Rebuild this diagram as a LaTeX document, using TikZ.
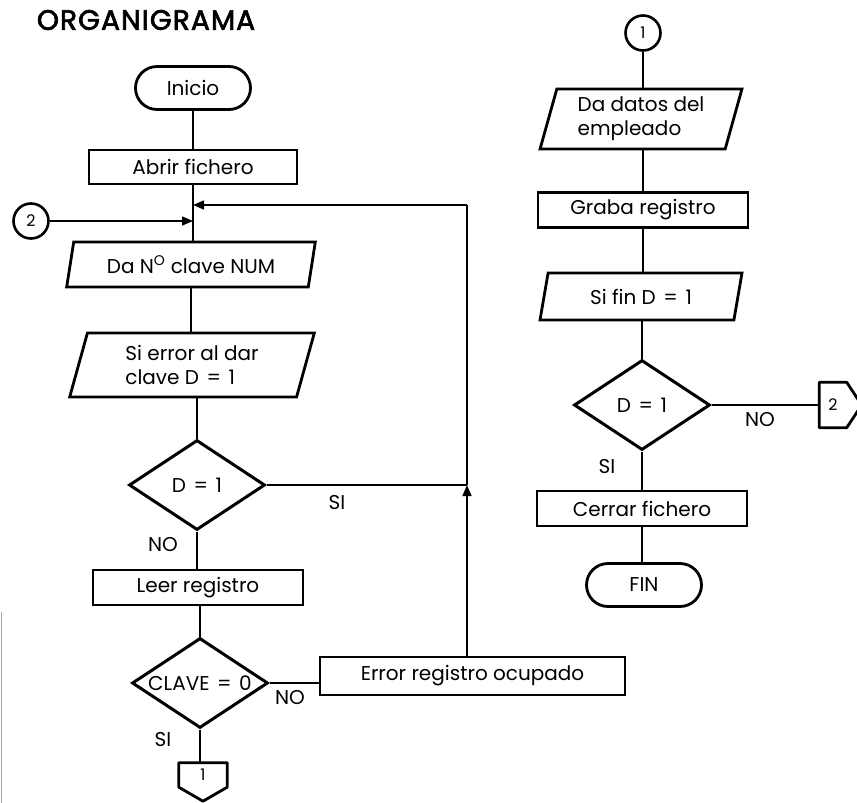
\documentclass[tikz,border=0pt]{standalone}
\usepackage{fontspec}
\setmainfont{Poppins}
\newfontfamily\titlefont[LetterSpace=4,FakeBold=2.5]{Poppins}
\usetikzlibrary{shapes.geometric,shapes.misc,arrows.meta}
\newcommand{\eqs}{\hspace{0.38em}=\hspace{0.38em}}
\begin{document}
\begin{tikzpicture}[x=1pt,y=-1pt,
  every node/.style={font=\fontsize{20}{24}\selectfont},
  flow/.style={line width=1.4pt},
  arr/.style={flow,-{Triangle[length=11pt,width=9pt]}},
  proc/.style={draw,line width=2.8pt,rectangle,minimum width=210pt,minimum height=35pt,inner sep=0pt},
  io/.style={draw,line width=2.8pt,trapezium,trapezium left angle=74,trapezium right angle=106,trapezium stretches=true,inner sep=0pt},
  term/.style={draw,line width=2.8pt,rounded rectangle,minimum width=115pt,minimum height=43pt,inner sep=0pt},
  decision/.style={draw,line width=3pt,diamond,minimum width=136pt,minimum height=90pt,inner sep=0pt},
  conn/.style={draw,line width=2.6pt,circle,minimum size=35pt,inner sep=0pt,font=\fontsize{16}{16}\selectfont},
  offpage/.style={line width=2.8pt,line join=round},
  lbl/.style={inner sep=0pt}
]
\useasboundingbox (0,0) rectangle (857,803);
\fill[white] (0,0) rectangle (857,803);

% title
\node[lbl,font=\fontsize{28}{30}\titlefont] (title) at (146,20) {ORGANIGRAMA};

% left column
\node[term] (inicio) at (193,88) {Inicio};
\node[proc,minimum width=208pt,minimum height=34pt] (abrir) at (193,167) {Abrir fichero};
\node[conn] (c2) at (31,221) {2};
\node[io,minimum width=249pt,minimum height=45pt] (danum) at (191,264.5) {Da N\textsuperscript{O} clave NUM};
\node[io,minimum width=245pt,minimum height=64pt,align=left] (sierr) at (192,365) {Si error al dar\\clave D\eqs1};
\node[decision] (d1) at (197,485) {\makebox[0pt]{D\eqs1}};
\node[proc] (leer) at (198,587.5) {Leer registro};
\node[decision] (d3) at (200,683) {\makebox[0pt]{CLAVE\eqs0}};
\node[proc,minimum width=305pt,minimum height=38pt] (err) at (472.5,676) {Error registro ocupado};
\node[lbl,minimum width=48pt,minimum height=24pt,font=\fontsize{16}{16}\selectfont] (p1) at (203,775) {1};
\draw[offpage] (p1.south west) -- (p1.north west) -- (p1.north east) -- (p1.south east) -- ([yshift=-14pt]p1.south) -- cycle;

% right column
\node[conn] (c1) at (643,33) {1};
\node[io,minimum width=202pt,minimum height=60pt,align=left] (datos) at (641,119) {Da datos del\\empleado};
\node[proc] (graba) at (643,210) {Graba registro};
\node[io,minimum width=202pt,minimum height=47pt] (sifin) at (641,296.5) {Si fin D\eqs1};
\node[decision] (d2) at (642,405) {\makebox[0pt]{D\eqs1}};
\node[proc] (cerrar) at (642,508.5) {Cerrar fichero};
\node[term] (fin) at (644,585) {FIN};
\node[lbl,minimum width=27pt,minimum height=45pt,font=\fontsize{16}{16}\selectfont] (p2) at (833,405) {2};
\draw[offpage] (p2.north east) -- (p2.north west) -- (p2.south west) -- (p2.south east) -- ([xshift=15pt]p2.east) -- cycle;

% loop-back points
\coordinate (j) at (467,485);
\coordinate (tp) at (467,205);

% left flow
\draw[flow] (inicio.south) -- (inicio.south |- abrir.north);
\draw[flow] (abrir.south) -- (abrir.south |- danum.north);
\draw[arr] (c2.east) -- (c2.east -| abrir.south);
\draw[arr] (tp) -- (tp -| abrir.south);
\draw[flow] (danum.south) -- (danum.south |- sierr.north);
\draw[flow] (d1.north |- sierr.south) -- (d1.north);
\draw[flow] (d1.south) -- (d1.south |- leer.north);
\draw[flow] (d3.north |- leer.south) -- (d3.north);
\draw[flow] (d3.south) -- (d3.south |- p1.north);
\draw[flow] (d3.east) -- (d3.east -| err.west);
\draw[flow] (d1.east) -- (j);
\draw[arr] (j |- err.north) -- (j);
\draw[flow] (j) -- (tp);

% right flow
\draw[flow] (c1.south) -- (c1.south |- datos.north);
\draw[flow] (graba.north |- datos.south) -- (graba.north);
\draw[flow] (graba.south) -- (graba.south |- sifin.north);
\draw[flow] (d2.north |- sifin.south) -- (d2.north);
\draw[flow] (d2.south) -- (d2.south |- cerrar.north);
\draw[flow] (cerrar.south) -- (cerrar.south |- fin.north);
\draw[flow] (d2.east) -- (p2.west);

% branch labels
\node[lbl] (si1) at (337,503) {SI};
\node[lbl] (no1) at (163,545) {NO};
\node[lbl] (no3) at (290,698) {NO};
\node[lbl] (si3) at (163,740) {SI};
\node[lbl] (no2) at (760,420) {NO};
\node[lbl] (si2) at (607,467) {SI};

% page edge
\draw[gray!70,line width=1pt] (1.5,612) -- (1.5,803);
\end{tikzpicture}
\end{document}
